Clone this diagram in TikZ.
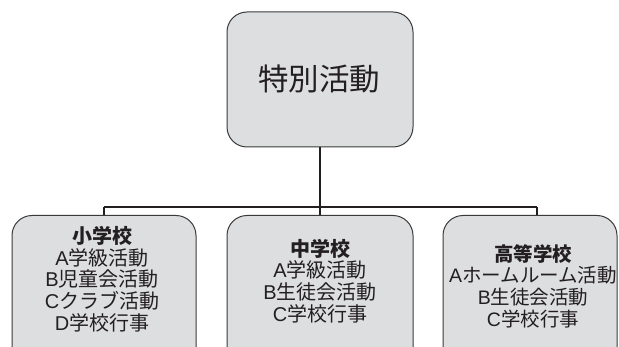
\documentclass[tikz,border=0pt]{standalone}
\usepackage{fontspec}
\setmainfont{Noto Sans CJK JP}
\newfontfamily\latfont{Liberation Sans}
\newcommand{\lt}[1]{{\latfont #1}}
\definecolor{boxfill}{HTML}{DDDEE0}
\definecolor{boxline}{HTML}{3A3A3A}
\definecolor{ink}{HTML}{231F20}
\begin{document}
\begin{tikzpicture}[x=1pt,y=-1pt,
  box/.style={draw=boxline,fill=boxfill,line width=1pt,rounded corners=20pt,inner sep=0pt},
  body/.style={text=ink,align=center,inner sep=0pt,font=\fontsize{20}{21.7}\selectfont},
  conn/.style={draw=ink,line width=1.5pt}]
\useasboundingbox (0,0) rectangle (619,347);
\clip (0,0) rectangle (619,347);
% top box
\node[box,minimum width=186pt,minimum height=135pt] (top) at (320,79.5) {};
\node[text=ink,inner sep=0pt,font=\fontsize{30.5}{32}\selectfont] (topt) at (319,79) {特別活動};
% bottom boxes
\node[box,minimum width=184pt,minimum height=160pt,anchor=north] (L) at (104,215) {};
\node[box,minimum width=186pt,minimum height=160pt,anchor=north] (M) at (320,215) {};
\node[box,minimum width=174pt,minimum height=160pt,anchor=north] (R) at (530,215) {};
\node[body] (Lt) at (102,279) {{\bfseries 小学校}\\\lt{A}学級活動\\\lt{B}児童会活動\\\lt{C}クラブ活動\\\lt{D}学校行事};
\node[body] (Mt) at (320,281) {{\bfseries 中学校}\\\lt{A}学級活動\\\lt{B}生徒会活動\\\lt{C}学校行事};
\node[body,font=\fontsize{19.5}{21.7}\selectfont] (Rt) at (533,286) {{\bfseries 高等学校}\\\lt{A}ホームルーム活動\\\lt{B}生徒会活動\\\lt{C}学校行事};
% connectors
\coordinate (hub) at (320,207);
\coordinate (lj) at (104,207);
\coordinate (rj) at (537,207);
\draw[conn,line width=1.8pt] (top.south) -- (hub);
\draw[conn] (lj) -- (rj);
\draw[conn] (lj) -- (L.north);
\draw[conn] (hub) -- (M.north);
\draw[conn] (rj) -- (rj |- R.north);
\end{tikzpicture}
\end{document}
